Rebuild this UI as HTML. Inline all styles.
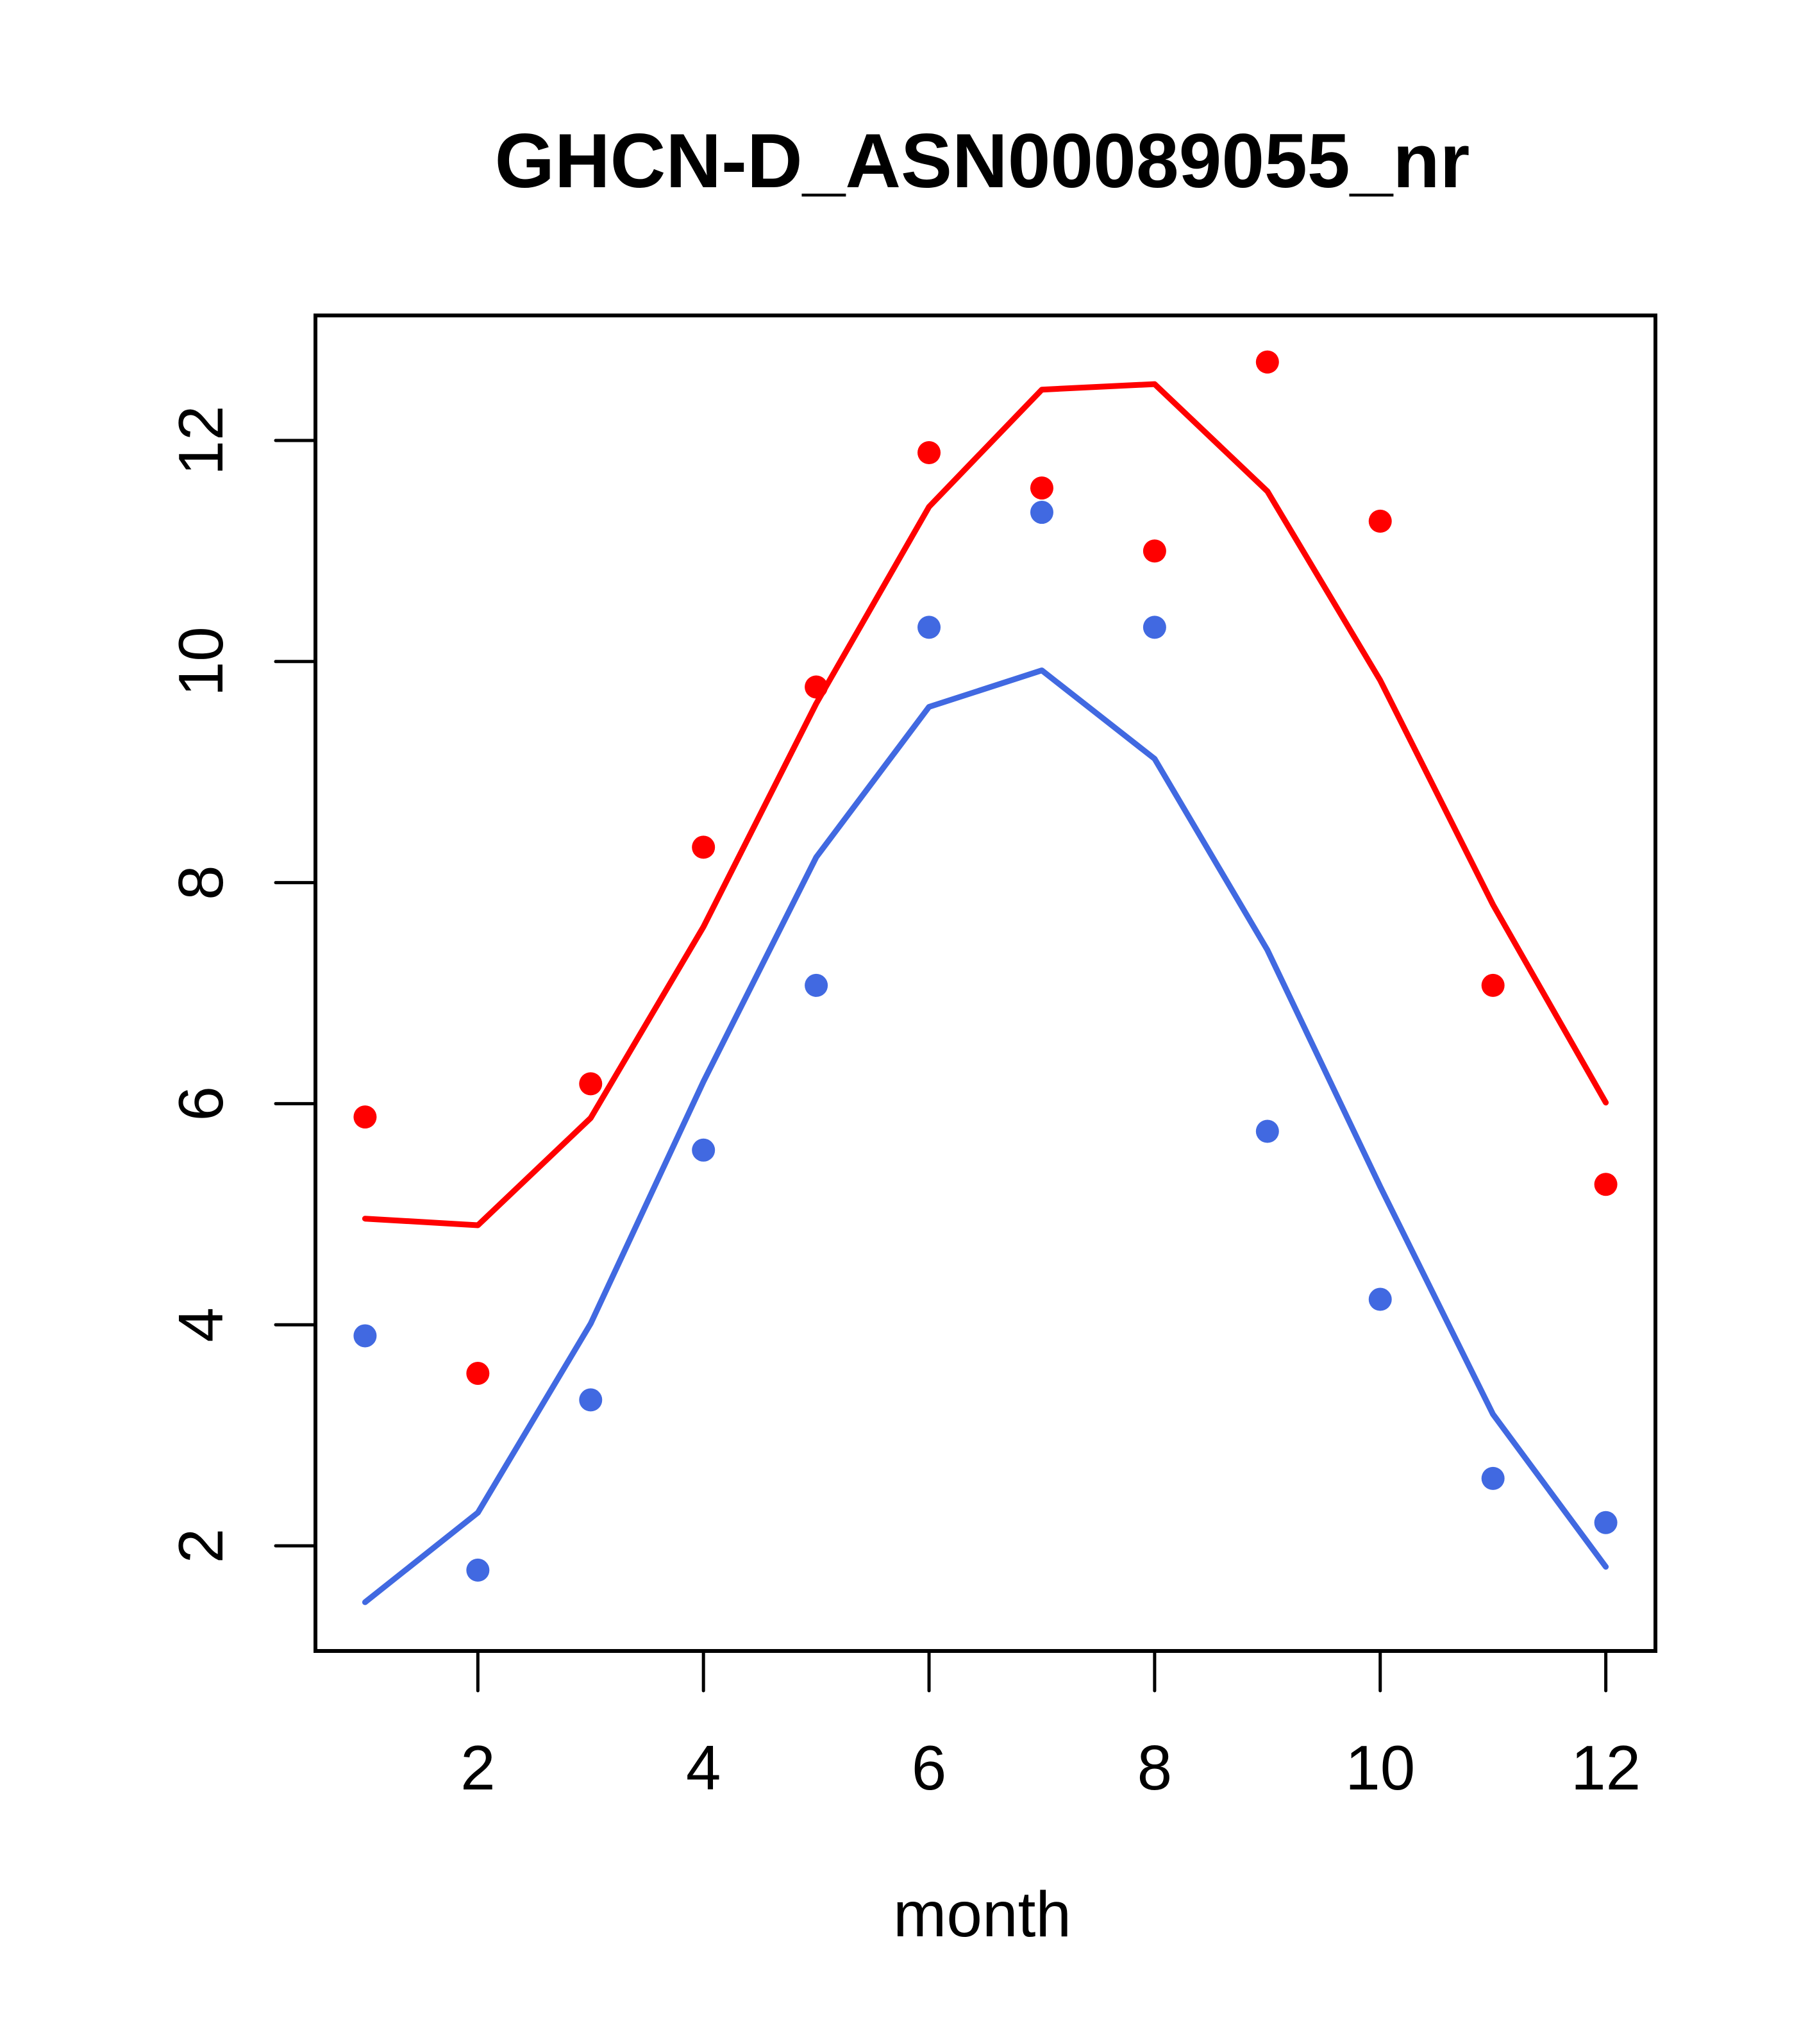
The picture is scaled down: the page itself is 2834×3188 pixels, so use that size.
<!DOCTYPE html>
<html><head><meta charset="utf-8"><style>body{margin:0;background:#fff}svg{display:block}text{font-family:"Liberation Sans",sans-serif}</style></head>
<body>
<svg id="chart" width="2834" height="3188" viewBox="0 0 2834 3188" xmlns="http://www.w3.org/2000/svg">
<rect width="2834" height="3188" fill="#fff"/>
<text x="1532" y="292" font-size="120" font-weight="bold" text-anchor="middle">GHCN-D_ASN00089055_nr</text>
<text x="1532" y="3020" font-size="100" text-anchor="middle">month</text>
<g id="xticks"></g>
<g id="yticks"></g>
<g id="marks"></g>
<rect x="492" y="492" width="2090" height="2083" fill="none" stroke="#000" stroke-width="6"/>
</svg>
<script>
const months = [1,2,3,4,5,6,7,8,9,10,11,12];
const redPoints = [5.88,3.56,6.18,8.32,9.77,11.89,11.57,11.0,12.71,11.27,7.07,5.27];
const redLine = [4.96,4.90,5.87,7.60,9.62,11.40,12.46,12.51,11.54,9.83,7.80,6.01];
const bluePoints = [3.90,1.78,3.32,5.58,7.07,10.31,11.35,10.31,5.75,4.23,2.61,2.21];
const blueLine = [1.49,2.30,4.01,6.20,8.23,9.59,9.92,9.12,7.39,5.25,3.19,1.81];
const xTicks = [2,4,6,8,10,12];
const yTicks = [2,4,6,8,10,12];
const NS='http://www.w3.org/2000/svg';
const L=492,R=2582,T=492,B=2575;
const x0=1-0.44, x1=12+0.44;
const y2px=2411, y12px=687;
const sx=v=>L+(v-x0)/(x1-x0)*(R-L);
const sy=v=>y2px+(v-2)*(y12px-y2px)/10;
function mk(tag,attrs,parent){const e=document.createElementNS(NS,tag);for(const k in attrs)e.setAttribute(k,attrs[k]);parent.appendChild(e);return e;}
const xg=document.getElementById('xticks'),yg=document.getElementById('yticks'),mg=document.getElementById('marks');
xTicks.forEach(t=>{
  const l=mk('line',{x1:sx(t),x2:sx(t),y1:B,y2:B+62,stroke:'#000','stroke-width':5,'stroke-linecap':'round'},xg);
  
  
  const tx=mk('text',{x:sx(t),y:2791,'font-size':98,'text-anchor':'middle'},xg);tx.textContent=t;
  
  
});
yTicks.forEach(t=>{
  const l=mk('line',{x1:L-62,x2:L,y1:sy(t),y2:sy(t),stroke:'#000','stroke-width':5,'stroke-linecap':'round'},yg);
  
  
  const tx=mk('text',{x:0,y:0,'font-size':98,'text-anchor':'middle',transform:`translate(347,${sy(t)}) rotate(-90)`},yg);tx.textContent=t;
  
  
});
function line(vals,color,name){
  const p=mk('polyline',{points:vals.map((v,i)=>sx(months[i])+','+sy(v)).join(' '),fill:'none',stroke:color,'stroke-width':9,'stroke-linecap':'round','stroke-linejoin':'round'},mg);
  
  
}
function pts(vals,color,name){
  vals.forEach((v,i)=>{const c=mk('circle',{cx:sx(months[i]),cy:sy(v),r:18,fill:color},mg);
    
    });
}
line(redLine,'#ff0000','red-line');
line(blueLine,'#4169e1','blue-line');
pts(redPoints,'#ff0000','red-point');
pts(bluePoints,'#4169e1','blue-point');
</script>
</body></html>
